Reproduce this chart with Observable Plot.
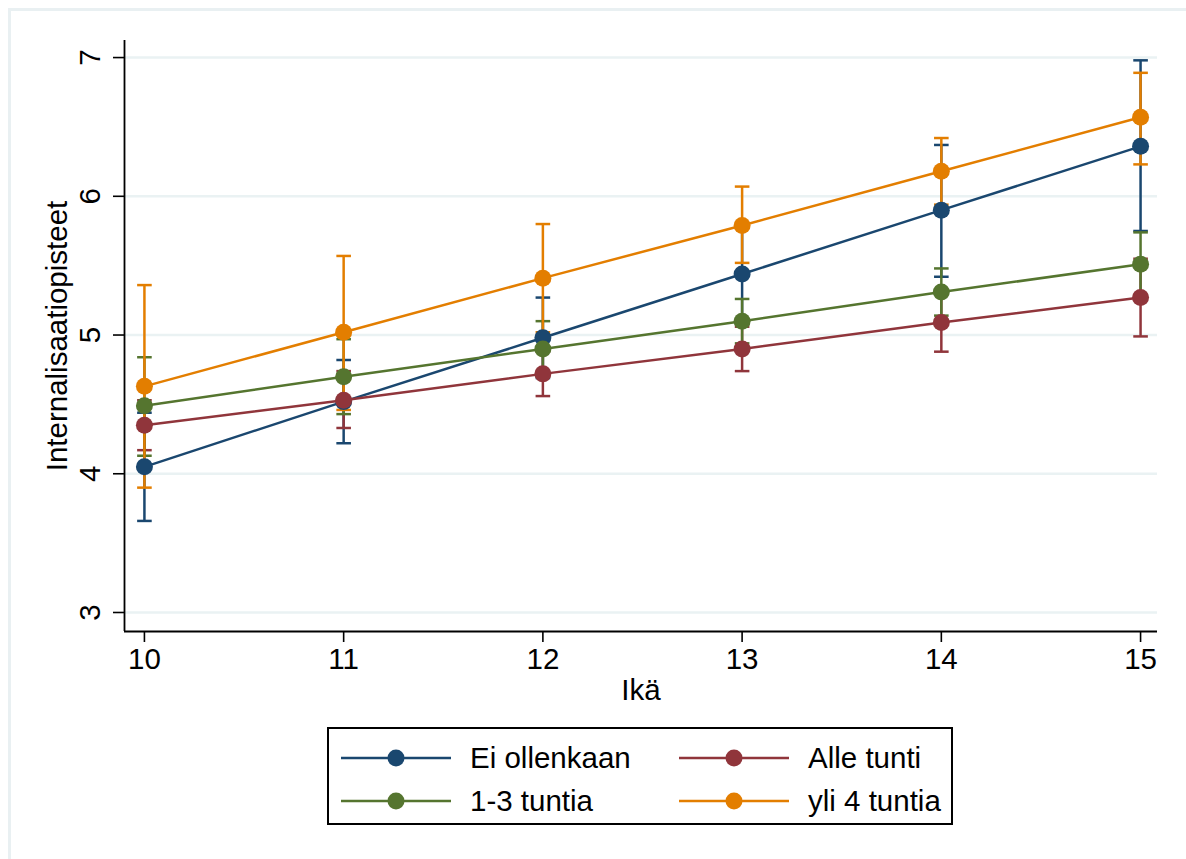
<!DOCTYPE html>
<html>
<head>
<meta charset="utf-8">
<script src="https://cdn.jsdelivr.net/npm/d3@7"></script>
<script src="https://cdn.jsdelivr.net/npm/@observablehq/plot@0.6"></script>
<style>
  html, body { margin: 0; padding: 0; background: #fff; }
  #wrap { position: relative; width: 1186px; height: 859px; overflow: hidden; font-family: "Liberation Sans", Arial, Helvetica, sans-serif; }
  #frame { position: absolute; left: 8px; top: 8px; width: 1200px; height: 900px; border-left: 3px solid #e9f0f2; border-top: 3px solid #e9f0f2; box-sizing: border-box; }
  #chart { position: absolute; left: 0; top: 0; }
  #legend { position: absolute; left: 327px; top: 727px; width: 626px; height: 98px; border: 2px solid #000; box-sizing: border-box; background: #fff; }
  .item { position: absolute; height: 40px; display: flex; align-items: center; font-size: 29.5px; color: #000; white-space: nowrap; }
  .item svg { margin-right: 18px; }
</style>
</head>
<body>
<div id="wrap">
  <div id="frame"></div>
  <div id="chart"></div>
  <div id="legend"></div>
</div>
<script>
// ---- Data ----
const ages = [10, 11, 12, 13, 14, 15];
const groups = ["Ei ollenkaan", "Alle tunti", "1-3 tuntia", "yli 4 tuntia"];
const colors = ["#1a476f", "#90353b", "#55752f", "#e37e00"];
const yTicks = [3, 4, 5, 6, 7];
const xDomain = [9.9, 15.085];
const yDomain = [2.863, 7.123];
const xLabel = "Ikä";
const yLabel = "Internalisaatiopisteet";

const eiMean = [4.05, 4.52, 4.98, 5.44, 5.90, 6.36];
const eiLo   = [3.66, 4.22, 4.69, 5.09, 5.42, 5.75];
const eiHi   = [4.44, 4.82, 5.27, 5.79, 6.37, 6.98];

const alleMean = [4.35, 4.53, 4.72, 4.90, 5.09, 5.27];
const alleLo   = [4.17, 4.33, 4.56, 4.74, 4.88, 4.99];
const alleHi   = [4.53, 4.74, 4.88, 5.06, 5.30, 5.55];

const tuntiaMean = [4.49, 4.70, 4.90, 5.10, 5.31, 5.51];
const tuntiaLo   = [4.13, 4.43, 4.70, 4.94, 5.14, 5.28];
const tuntiaHi   = [4.84, 4.97, 5.10, 5.26, 5.48, 5.74];

const yliMean = [4.63, 5.02, 5.41, 5.79, 6.18, 6.57];
const yliLo   = [3.90, 4.46, 5.02, 5.52, 5.94, 6.23];
const yliHi   = [5.36, 5.57, 5.80, 6.07, 6.42, 6.89];

const series = [
  [eiMean, eiLo, eiHi],
  [alleMean, alleLo, alleHi],
  [tuntiaMean, tuntiaLo, tuntiaHi],
  [yliMean, yliLo, yliHi]
];

const data = [];
groups.forEach((g, i) => {
  const [m, lo, hi] = series[i];
  ages.forEach((a, j) => data.push({group: g, age: a, mean: m[j], lo: lo[j], hi: hi[j]}));
});

// horizontal cap symbol for error bars
const capSymbol = {
  draw(ctx, size) {
    const r = Math.sqrt(size / Math.PI);
    ctx.moveTo(-r, 0);
    ctx.lineTo(r, 0);
  }
};

const FONT = "'Liberation Sans', Arial, Helvetica, sans-serif";

const ciMarks = groups.flatMap((g) => [
  Plot.ruleX(data.filter(d => d.group === g), {x: "age", y1: "lo", y2: "hi", stroke: "group", strokeWidth: 2.5}),
  Plot.dot(data.filter(d => d.group === g), {x: "age", y: "lo", symbol: capSymbol, r: 7.3, stroke: "group", strokeWidth: 2.5}),
  Plot.dot(data.filter(d => d.group === g), {x: "age", y: "hi", symbol: capSymbol, r: 7.3, stroke: "group", strokeWidth: 2.5})
]);

const lineMarks = groups.flatMap((g) => [
  Plot.line(data.filter(d => d.group === g), {x: "age", y: "mean", stroke: "group", strokeWidth: 2.5}),
  Plot.dot(data.filter(d => d.group === g), {x: "age", y: "mean", fill: "group", r: 8.5, stroke: "none"})
]);

const chart = Plot.plot({
  width: 1186,
  height: 859,
  marginLeft: 124,
  marginTop: 40,
  marginRight: 29,
  marginBottom: 228,
  style: {fontFamily: FONT, fontSize: "29.5px", background: "transparent", color: "#000"},
  x: {domain: xDomain},
  y: {domain: yDomain},
  color: {domain: groups, range: colors},
  marks: [
    Plot.gridY(yTicks, {stroke: "#eaf2f3", strokeOpacity: 1, strokeWidth: 2.5}),
    ...ciMarks,
    ...lineMarks,
    Plot.ruleX([xDomain[0]], {stroke: "#000", strokeWidth: 1.8}),
    Plot.ruleY([yDomain[0]], {stroke: "#000", strokeWidth: 1.8}),
    Plot.axisX({ticks: ages, tickSize: 11, tickPadding: 6, tickFormat: d => String(d), fontSize: 29.5, label: null, strokeWidth: 1.6}),
    Plot.axisY({ticks: yTicks, tickSize: 11, tickFormat: () => "", label: null, strokeWidth: 1.6}),
    Plot.text(yTicks, {y: d => d, text: d => String(d), frameAnchor: "left", dx: -25, rotate: -90, textAnchor: "middle", lineAnchor: "bottom", fontSize: 29.5, fill: "#000"}),
    Plot.text([yLabel], {frameAnchor: "left", dx: -67, rotate: -90, textAnchor: "middle", lineAnchor: "middle", fontSize: 29.5, fill: "#000"}),
    Plot.text([xLabel], {frameAnchor: "bottom", dy: 59, textAnchor: "middle", lineAnchor: "middle", fontSize: 29.5, fill: "#000"})
  ]
});
document.getElementById("chart").appendChild(chart);

// ---- Legend ----
const legend = document.getElementById("legend");
const pos = [
  {left: 11, top: 9}, {left: 349, top: 9},
  {left: 11, top: 52}, {left: 349, top: 52}
];
groups.forEach((g, i) => {
  const el = document.createElement("div");
  el.className = "item";
  el.style.left = pos[i].left + "px";
  el.style.top = pos[i].top + "px";
  const svg = d3.create("svg").attr("width", 112).attr("height", 24);
  svg.append("line").attr("x1", 1).attr("x2", 111).attr("y1", 12).attr("y2", 12)
     .attr("stroke", colors[i]).attr("stroke-width", 2.5);
  svg.append("circle").attr("cx", 56).attr("cy", 12).attr("r", 8.5).attr("fill", colors[i]);
  el.appendChild(svg.node());
  const span = document.createElement("span");
  span.textContent = g;
  el.appendChild(span);
  legend.appendChild(el);
});
</script>
</body>
</html>
